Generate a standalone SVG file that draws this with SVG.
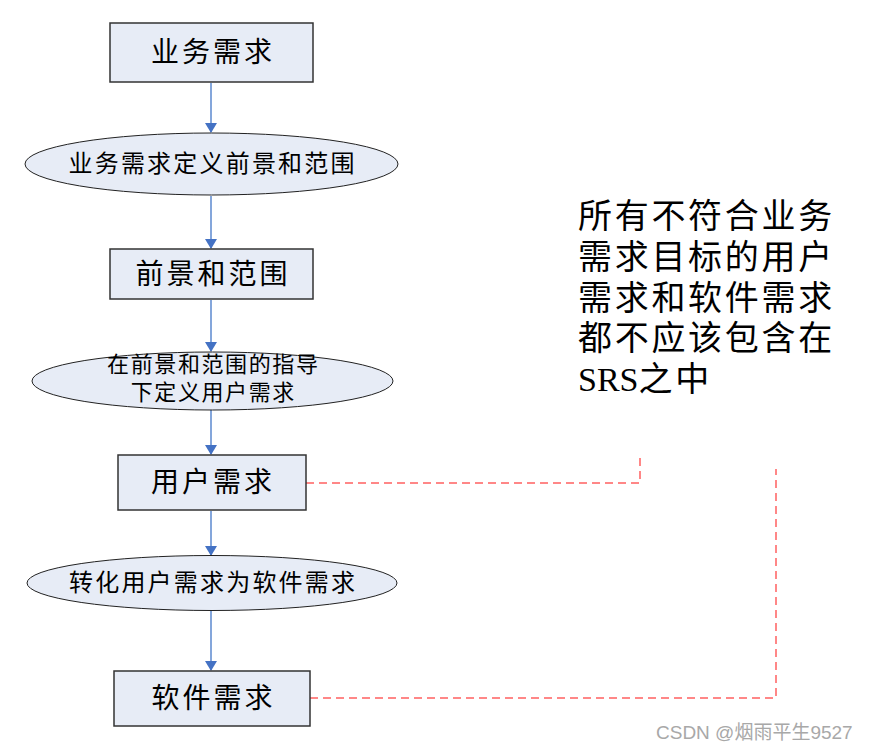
<svg xmlns="http://www.w3.org/2000/svg" width="870" height="750" viewBox="0 0 870 750">
<style>
.n{fill:#E7ECF6;stroke:#333;stroke-width:1.5}
.e{fill:#E7ECF6;stroke:#222;stroke-width:1}
.t{font-family:"Liberation Serif","Noto Sans CJK SC",serif;fill:#000;text-anchor:middle}
.big{font-size:28px;letter-spacing:3px}
.mid{font-size:24px;letter-spacing:2.2px}
.sm{font-size:22px;letter-spacing:1.6px}
.a{stroke:#5B88CF;stroke-width:1.5;fill:none}
.d{stroke:#FF6060;stroke-width:1.5;fill:none;stroke-dasharray:8,5}
</style>
<defs>
<marker id="ah" markerWidth="10" markerHeight="12" refX="9" refY="6" orient="auto" markerUnits="userSpaceOnUse" viewBox="0 0 10 12">
<path d="M0,0 L10,6 L0,12 z" fill="#4472C4"/>
</marker>
</defs>
<rect width="870" height="750" fill="#fff"/>
<g id="connectors">
<line class="a" x1="211" y1="83" x2="211" y2="132" marker-end="url(#ah)"/>
<line class="a" x1="211" y1="196" x2="211" y2="248" marker-end="url(#ah)"/>
<line class="a" x1="211" y1="300" x2="211" y2="351" marker-end="url(#ah)"/>
<line class="a" x1="211" y1="410" x2="211" y2="454" marker-end="url(#ah)"/>
<line class="a" x1="211" y1="511" x2="211" y2="555" marker-end="url(#ah)"/>
<line class="a" x1="211" y1="611" x2="211" y2="670" marker-end="url(#ah)"/>
<polyline class="d" points="306,483 640,483 640,455"/>
<polyline class="d" points="310,698 776,698 776,469"/>
</g>
<g id="n1"><rect class="n" x="110" y="23" width="203" height="59"/><text class="t big" x="213" y="62">业务需求</text></g>
<g id="n2"><ellipse class="e" cx="211.5" cy="164" rx="186.5" ry="31"/><text class="t mid" x="212.6" y="172">业务需求定义前景和范围</text></g>
<g id="n3"><rect class="n" x="110" y="249" width="203" height="50"/><text class="t big" x="213" y="284">前景和范围</text></g>
<g id="n4"><ellipse class="e" cx="212.5" cy="381" rx="180.5" ry="29"/><text class="t sm" x="213.3" y="372">在前景和范围的指导</text><text class="t sm" x="213.3" y="400">下定义用户需求</text></g>
<g id="n5"><rect class="n" x="118" y="455" width="188" height="55"/><text class="t big" x="213" y="492">用户需求</text></g>
<g id="n6"><ellipse class="e" cx="212" cy="583" rx="185" ry="27.5"/><text class="t mid" x="213.1" y="591">转化用户需求为软件需求</text></g>
<g id="n7"><rect class="n" x="114" y="671" width="196" height="55"/><text class="t big" x="213.5" y="708">软件需求</text></g>
<g id="note">
<text font-family="Liberation Serif,Noto Sans CJK SC,serif" font-size="34" letter-spacing="2.7" fill="#000">
<tspan x="578" y="228">所有不符合业务</tspan>
<tspan x="578" y="269">需求目标的用户</tspan>
<tspan x="578" y="310">需求和软件需求</tspan>
<tspan x="578" y="350">都不应该包含在</tspan>
</text>
<text x="578" y="391" font-family="Liberation Serif,Noto Sans CJK SC,serif" font-size="34" fill="#000">SRS<tspan letter-spacing="2.7">之中</tspan></text>
</g>
<text x="656" y="739" font-family="Liberation Sans,Noto Sans CJK SC,sans-serif" font-size="19" fill="#A8A8A8">CSDN @烟雨平生9527</text>
</svg>
